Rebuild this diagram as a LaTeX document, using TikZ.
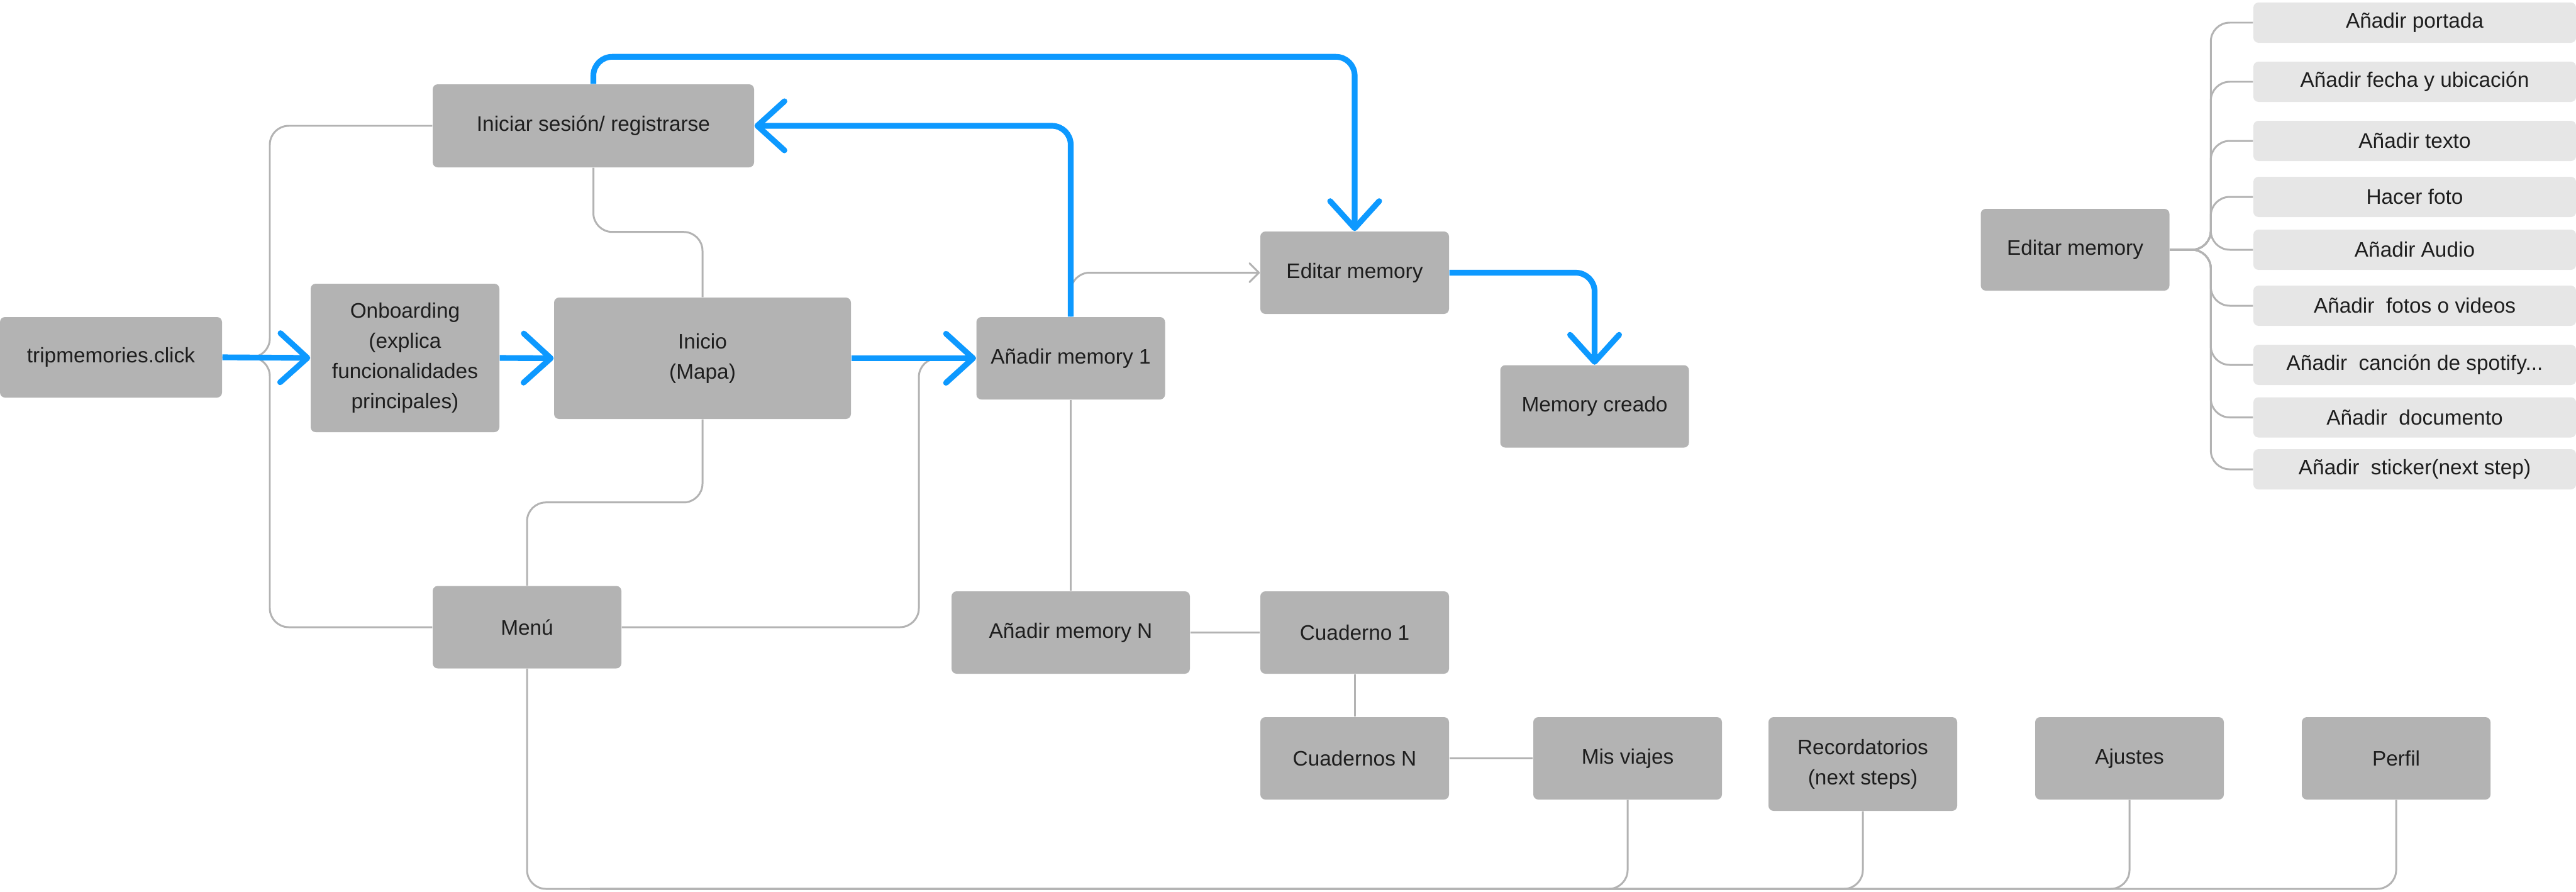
\documentclass[tikz,border=0pt]{standalone}
\usepackage{fontspec}
\setmainfont{Liberation Sans}
\usetikzlibrary{arrows.meta}
\definecolor{boxgray}{HTML}{B3B3B3}
\definecolor{optgray}{HTML}{E6E6E6}
\definecolor{flowblue}{HTML}{0D99FF}
\definecolor{textdark}{HTML}{1E1E1E}
\begin{document}
\begin{tikzpicture}[
    box/.style={fill=boxgray, rounded corners=0.8mm, minimum width=3cm, minimum height=1.31cm,
      inner sep=0pt, align=center, text=textdark, font=\fontsize{9.5}{13.7}\selectfont},
    option/.style={box, fill=optgray, minimum width=5.13cm, minimum height=0.64cm},
    flow/.style={draw=flowblue, line width=2.6pt, rounded corners=3mm,
      -{Straight Barb[length=4.3mm, width=7.8mm, round]}},
    link/.style={draw=boxgray, line width=0.85pt, rounded corners=3mm},
  ]
    \useasboundingbox (0,0) rectangle (40.96,-14.17);

    % Main flow boxes
    \node[box, minimum width=3.53cm, minimum height=1.28cm] (trip) at (1.765,-5.68) {tripmemories.click};
    \node[box, minimum height=2.36cm] (onb) at (6.44,-5.69) {Onboarding\\(explica\\funcionalidades\\principales)};
    \node[box, minimum width=4.72cm, minimum height=1.93cm] (inicio) at (11.17,-5.695) {Inicio\\(Mapa)};
    \node[box, minimum width=5.11cm, minimum height=1.32cm] (login) at (9.435,-2.00) {Iniciar sesión/ registrarse};
    \node[box] (add1) at (17.025,-5.695) {Añadir memory 1};
    \node[box] (edit) at (21.54,-4.335) {Editar memory};
    \node[box] (created) at (25.355,-6.46) {Memory creado};
    \node[box] (menu) at (8.38,-9.97) {Menú};

    % Lower boxes
    \node[box, minimum width=3.79cm] (addN) at (17.025,-10.055) {Añadir memory N};
    \node[box] (cuad1) at (21.54,-10.055) {Cuaderno 1};
    \node[box] (cuadN) at (21.54,-12.055) {Cuadernos N};
    \node[box] (viajes) at (25.88,-12.055) {Mis viajes};
    \node[box, minimum height=1.49cm] (record) at (29.62,-12.145) {Recordatorios\\(next steps)};
    \node[box] (ajustes) at (33.86,-12.055) {Ajustes};
    \node[box] (perfil) at (38.10,-12.055) {Perfil};

    % Editar memory options
    \node[box, minimum height=1.30cm] (edit2) at (32.995,-3.97) {Editar memory};
    \foreach \i/\y/\txt in {1/0.36/{Añadir portada}, 2/1.30/{Añadir fecha y ubicación}, 3/2.24/{Añadir texto},
        4/3.13/{Hacer foto}, 5/3.97/{Añadir Audio}, 6/4.86/{Añadir\ \ fotos o videos},
        7/5.80/{Añadir\ \ canción de spotify...}, 8/6.635/{Añadir\ \ documento}, 9/7.46/{Añadir\ \ sticker(next step)}} {
        \node[option] (opt\i) at (38.395,-\y) {\txt};
        \draw[link] (edit2.east) -| ([xshift=-6.7mm]opt\i.west) -- (opt\i.west);
    }

    % Gray links
    \coordinate (tripSplit) at (4.29,-5.68);
    \draw[link] (trip.east) -- (tripSplit) |- (login.west);
    \draw[link] (trip.east) -- (tripSplit) |- (menu.west);
    \draw[link] (login.south) -- ++(0,-1.02) -| (inicio.north);
    \draw[link] (inicio.south) -- ++(0,-1.32) -| (menu.north);
    \coordinate (menuUp) at (14.61,-5.695);
    \draw[link] (menu.east) -| (menuUp) -- (add1.west);
    \draw[link, -{Straight Barb[length=1.5mm, width=3mm, round]}] (add1.north) |- (edit.west);
    \draw[link] (add1.south) -- (addN.north);
    \draw[link] (addN.east) -- (cuad1.west);
    \draw[link] (cuad1.south) -- (cuadN.north);
    \draw[link] (cuadN.east) -- (viajes.west);

    % Bottom bus
    \coordinate (busL) at (8.38,-14.13);
    \draw[link] (menu.south) -- (busL) -| (perfil.south);
    \foreach \n in {viajes,record,ajustes}
        \draw[link] (\n.south) |- ([xshift=1cm]busL);

    % Blue flow
    \draw[flow] (trip.east) -- (onb.west);
    \draw[flow] (onb.east) -- (inicio.west);
    \draw[flow] (inicio.east) -- (add1.west);
    \draw[flow] (add1.north) |- (login.east);
    \draw[flow] (login.north) -- ++(0,0.43) -| (edit.north);
    \draw[flow] (edit.east) -| (created.north);
\end{tikzpicture}
\end{document}
